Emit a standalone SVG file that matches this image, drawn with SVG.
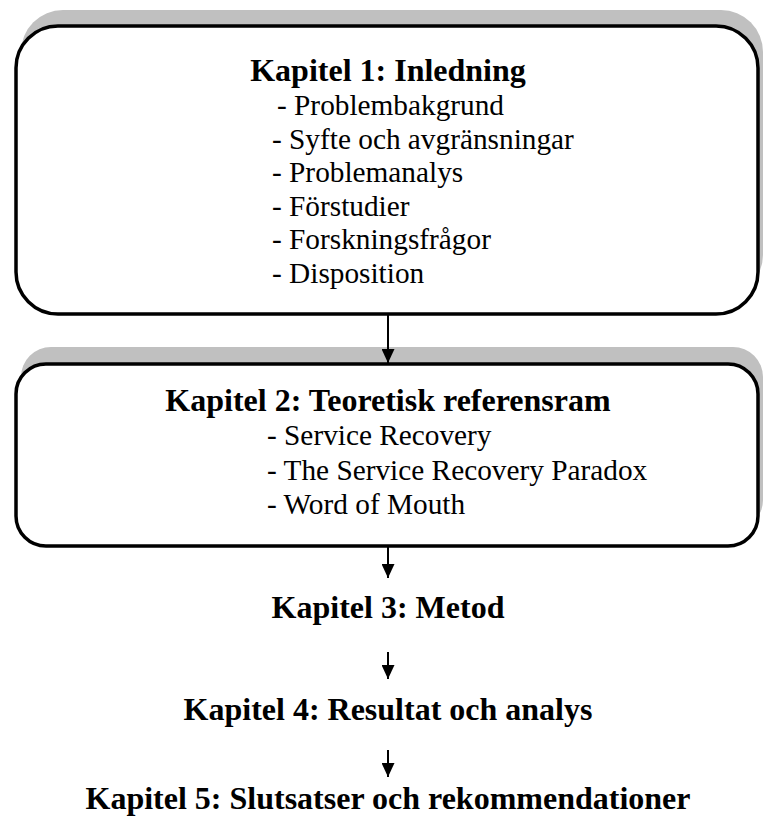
<svg xmlns="http://www.w3.org/2000/svg" width="765" height="818" viewBox="0 0 765 818">
  <style>
    .shadow { fill: #c0c0c0; stroke: none; }
    .frame { fill: #ffffff; stroke: #000000; stroke-width: 3.5; }
    .title { font-family: "Liberation Serif", "Times New Roman", serif; font-weight: bold; font-size: 32px; fill: #000; text-anchor: middle; }
    .item { font-family: "Liberation Serif", "Times New Roman", serif; font-size: 29.3px; fill: #000; }
    .link { stroke: #000; stroke-width: 2; fill: none; }
    .head { fill: #000; stroke: none; }
  </style>
  <defs>
    <marker id="arrow" viewBox="0 0 14 13" refX="14" refY="6.5" markerWidth="14" markerHeight="13" markerUnits="userSpaceOnUse" orient="auto">
      <path d="M0,0 L14,6.5 L0,13 Z" class="head"/>
    </marker>
  </defs>

  <!-- Chapter 1 box -->
  <g id="kapitel1">
    <rect class="shadow" x="21" y="10" width="742" height="287" rx="42" ry="42"/>
    <rect class="frame" x="16" y="26" width="742" height="288" rx="42" ry="42"/>
    <text class="title" x="388" y="81">Kapitel 1: Inledning</text>
    <text class="item" x="277" y="115">- Problembakgrund</text>
    <text class="item" x="272" y="148.5">- Syfte och avgränsningar</text>
    <text class="item" x="272" y="182">- Problemanalys</text>
    <text class="item" x="272" y="215.5">- Förstudier</text>
    <text class="item" x="272" y="249">- Forskningsfrågor</text>
    <text class="item" x="272" y="282.5">- Disposition</text>
  </g>

  <!-- Chapter 2 box -->
  <g id="kapitel2">
    <rect class="shadow" x="21" y="347" width="742" height="183" rx="30" ry="30"/>
    <rect class="frame" x="16" y="364" width="742" height="182" rx="30" ry="30"/>
    <text class="title" x="388" y="411">Kapitel 2: Teoretisk referensram</text>
    <text class="item" x="267" y="445">- Service Recovery</text>
    <text class="item" x="267" y="480">- The Service Recovery Paradox</text>
    <text class="item" x="267" y="514">- Word of Mouth</text>
  </g>

  <g id="kapitel3">
    <text class="title" x="388" y="618">Kapitel 3: Metod</text>
  </g>

  <g id="kapitel4">
    <text class="title" x="388" y="720">Kapitel 4: Resultat och analys</text>
  </g>

  <g id="kapitel5">
    <text class="title" x="388" y="809">Kapitel 5: Slutsatser och rekommendationer</text>
  </g>

  <!-- Connectors -->
  <g id="connectors">
    <line class="link" x1="388" y1="315" x2="388" y2="363" marker-end="url(#arrow)"/>
    <line class="link" x1="388" y1="547" x2="388" y2="578" marker-end="url(#arrow)"/>
    <line class="link" x1="388" y1="652" x2="388" y2="679" marker-end="url(#arrow)"/>
    <line class="link" x1="388" y1="750" x2="388" y2="777" marker-end="url(#arrow)"/>
  </g>
</svg>
